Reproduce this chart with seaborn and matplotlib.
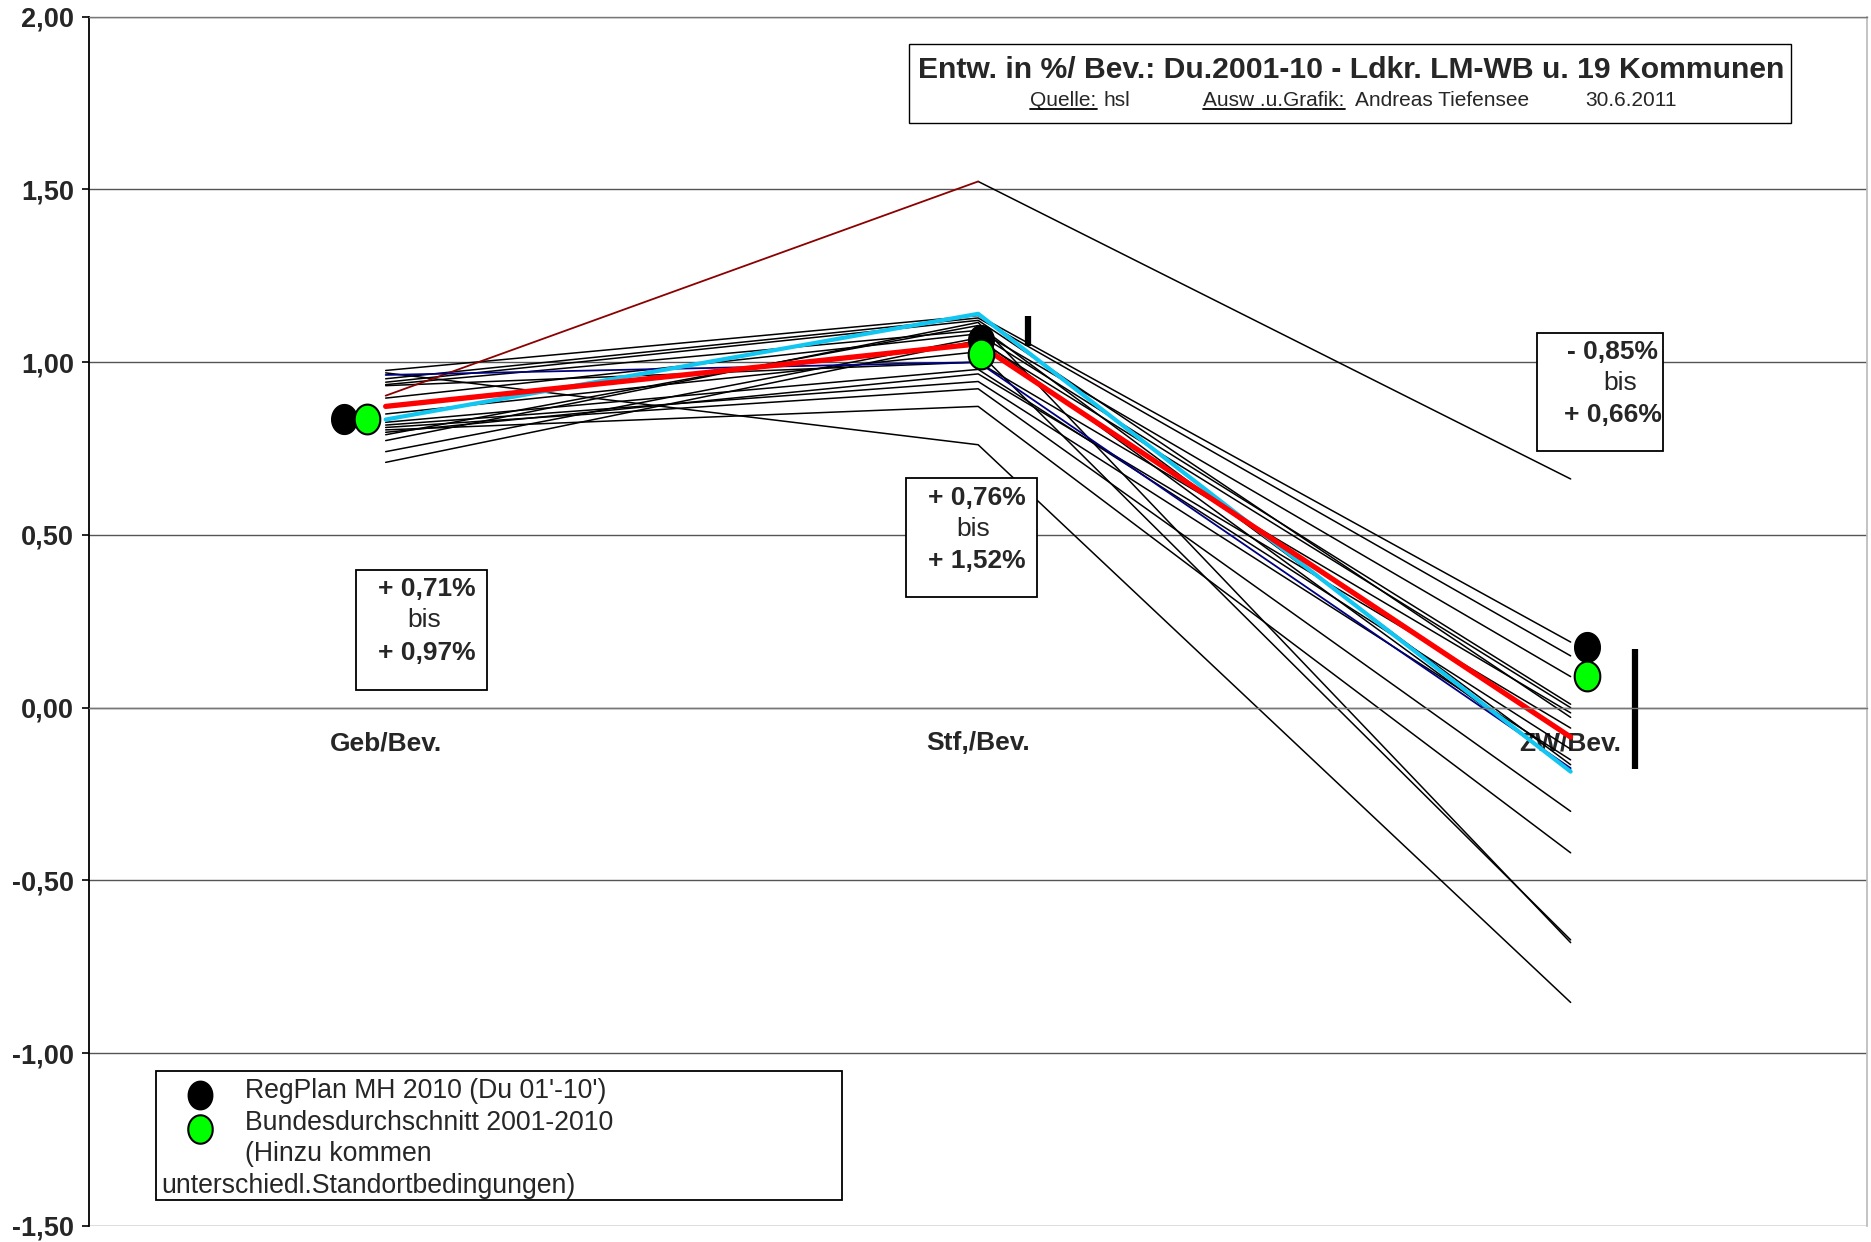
import numpy as np
import pandas as pd
import matplotlib
matplotlib.use("Agg")
import matplotlib.pyplot as plt
from matplotlib.path import Path
from matplotlib.patches import Rectangle
from matplotlib.lines import Line2D
from matplotlib.ticker import FuncFormatter
import seaborn as sns

# Kategorien (x-Achse)
categories = ["Geb/Bev.", "Stf,/Bev.", "ZW/Bev."]

# 17 Kommunen (schwarz): Werte je Kategorie
geb = [0.976, 0.969, 0.952, 0.942, 0.935, 0.932, 0.896, 0.850, 0.826,
       0.818, 0.811, 0.804, 0.797, 0.790, 0.773, 0.741, 0.710]
stf = [1.135, 0.761, 1.128, 1.121, 1.092, 1.000, 1.082, 1.030, 0.979,
       0.944, 0.923, 0.872, 0.966, 1.106, 1.115, 1.070, 1.063]
zw = [0.190, -0.853, 0.150, -0.028, 0.090, -0.015, 0.010, -0.672, -0.120,
      -0.151, -0.300, -0.420, -0.059, -0.165, -0.680, -0.180, 0.000]

# Sonderlinien
darkred_vals = [0.903, 1.523, 0.662]   # Kommune mit Maximum
navy_vals = [0.963, 1.000, -0.175]
cyan_vals = [0.834, 1.140, -0.185]
ldkr_vals = [0.872, 1.053, -0.085]      # Landkreis (rot)

# Vergleichspunkte
regplan = [0.835, 1.063, 0.175]
bund = [0.835, 1.024, 0.092]

# senkrechte Balken (Spannweiten)
stf_range = [1.048, 1.135]
zw_range = [-0.178, 0.169]

# Textboxen
box_texts = [("+ 0,71%", "bis", "+ 0,97%"),
             ("+ 0,76%", "bis", "+ 1,52%"),
             ("- 0,85%", "bis", "+ 0,66%")]

title = "Entw. in %/ Bev.: Du.2001-10 - Ldkr. LM-WB u. 19 Kommunen"
legend_lines = ["RegPlan MH 2010 (Du 01'-10')", "Bundesdurchschnitt 2001-2010",
                "(Hinzu kommen", "unterschiedl.Standortbedingungen)"]

sns.set_theme(style="white")
plt.rcParams["font.family"] = ["Liberation Sans", "DejaVu Sans"]

pos = np.arange(len(categories))

# Long-Format Tabelle fuer die schwarzen Linien
rows = []
for i in range(len(geb)):
    for p, v in zip(pos, [geb[i], stf[i], zw[i]]):
        rows.append({"name": f"K{i}", "pos": p, "value": v})
# zweites Segment der dunkelroten Kommune ist schwarz
for p, v in zip(pos[1:], darkred_vals[1:]):
    rows.append({"name": "darkred", "pos": p, "value": v})
df = pd.DataFrame(rows)

fig = plt.figure(figsize=(18.71, 12.42), dpi=100)
ax = fig.add_axes([0.0478, 0.0129, 0.950, 0.9737])

sns.lineplot(data=df, x="pos", y="value", units="name", estimator=None,
             color="black", linewidth=1.1, ax=ax, legend=False)
sns.lineplot(x=pos[:2], y=darkred_vals[:2], color="#8B0000", linewidth=1.3, ax=ax)
sns.lineplot(x=pos, y=navy_vals, color="#000080", linewidth=1.3, ax=ax)
sns.lineplot(x=pos, y=cyan_vals, color="#12C6F2", linewidth=3.0, ax=ax)
sns.lineplot(x=pos, y=ldkr_vals, color="#FF0000", linewidth=3.8, ax=ax)

# elliptischer Marker
t = np.linspace(0, 2 * np.pi, 60)
ell = Path(np.column_stack([0.43 * np.cos(t), 0.5 * np.sin(t)]))

ax.scatter(pos + np.array([-0.071, 0.004, 0.027]), regplan, s=460, marker=ell,
           color="black", edgecolor="black", zorder=5)
ax.scatter(pos + np.array([-0.032, 0.004, 0.027]), bund, s=460, marker=ell,
           color="#00FF00", edgecolor="black", linewidth=1.5, zorder=6)

ax.plot([1.084, 1.084], stf_range, color="black", linewidth=4.5, solid_capstyle="butt")
ax.plot([2.108, 2.108], zw_range, color="black", linewidth=4.5, solid_capstyle="butt")

# Achsen
ax.set_xlim(-0.5, 2.5)
ax.set_ylim(-1.5, 2.0)
ax.set_yticks(np.arange(-1.5, 2.01, 0.5))
ax.yaxis.set_major_formatter(FuncFormatter(lambda v, _: f"{v:.2f}".replace(".", ",")))
ax.set_xticks(pos)
ax.set_xticklabels(categories)
ax.set_xticks([0.5, 1.5], minor=True)
ax.set_xlabel("")
ax.set_ylabel("")

ax.spines["bottom"].set_position(("data", 0))
ax.spines["bottom"].set_color("#777777")
ax.spines["bottom"].set_linewidth(1)
ax.spines["left"].set_color("black")
ax.spines["left"].set_linewidth(1.3)
ax.spines["top"].set_color("#777777")
ax.spines["right"].set_color("#bbbbbb")
ax.spines["top"].set_linewidth(1)

ax.tick_params(axis="x", which="major", length=0, pad=17, labelsize=19)
ax.tick_params(axis="x", which="minor", length=5, color="#777777", direction="out")
ax.tick_params(axis="y", length=5, direction="out", color="black", width=1.2,
               pad=6, labelsize=19.5, left=True)
for lab in ax.get_xticklabels() + ax.get_yticklabels():
    lab.set_fontweight("bold")
ax.yaxis.grid(True, color="#555555", linewidth=1)
ax.xaxis.grid(False)

# Spannweiten-Boxen: (x0, y0, Breite, Hoehe, Textmitte, bis-Mitte, Zeilen-y)
boxes = [(-0.050, 0.051, 0.221, 0.347, 0.070, 0.065, [0.343, 0.253, 0.159]),
         (0.878, 0.321, 0.222, 0.343, 0.998, 0.991, [0.608, 0.518, 0.425]),
         (1.943, 0.743, 0.213, 0.341, 2.071, 2.084, [1.029, 0.939, 0.847])]
for (x0, y0, w, h, cx, bx, ys), txt in zip(boxes, box_texts):
    ax.add_patch(Rectangle((x0, y0), w, h, facecolor="white", edgecolor="black",
                           linewidth=1.3, zorder=7))
    ax.text(cx, ys[0], txt[0], ha="center", va="center", fontsize=19,
            fontweight="bold", zorder=8)
    ax.text(bx, ys[1], txt[1], ha="center", va="center", fontsize=19, zorder=8)
    ax.text(cx, ys[2], txt[2], ha="center", va="center", fontsize=19,
            fontweight="bold", zorder=8)

# Titelbox
ax.add_patch(Rectangle((0.884, 1.692), 1.488, 0.229, facecolor="white",
                       edgecolor="black", linewidth=1, zorder=7))
ax.text(1.629, 1.845, title, ha="center", va="center", fontsize=21.7,
        fontweight="bold", zorder=8)
sub_y = 1.758
t_q = ax.text(1.088, sub_y, "Quelle:", ha="left", va="center", fontsize=15, zorder=8)
ax.text(1.212, sub_y, "hsl", ha="left", va="center", fontsize=15, zorder=8)
t_a = ax.text(1.380, sub_y, "Ausw .u.Grafik:", ha="left", va="center", fontsize=15, zorder=8)
ax.text(1.636, sub_y, "Andreas Tiefensee", ha="left", va="center", fontsize=15, zorder=8)
ax.text(2.024, sub_y, "30.6.2011", ha="left", va="center", fontsize=15, zorder=8)

# Legendenbox
ax.add_patch(Rectangle((-0.388, -1.426), 1.158, 0.374, facecolor="white",
                       edgecolor="black", linewidth=1.3, zorder=7))
ax.scatter([-0.314], [-1.122], s=420, marker=ell, color="black", zorder=9)
ax.scatter([-0.314], [-1.219], s=420, marker=ell, color="#00FF00",
           edgecolor="black", linewidth=1.5, zorder=9)
leg_y = [-1.109, -1.202, -1.292, -1.385]
leg_x = [-0.237, -0.237, -0.237, -0.378]
for lx, ly, s in zip(leg_x, leg_y, legend_lines):
    ax.text(lx, ly, s, ha="left", va="center", fontsize=19.2, zorder=8)

# Unterstreichungen
fig.canvas.draw()
renderer = fig.canvas.get_renderer()
inv = fig.transFigure.inverted()
for tt in (t_q, t_a):
    bb = tt.get_window_extent(renderer)
    (x0, y0), (x1, _) = inv.transform([(bb.x0, bb.y0 + 1), (bb.x1, bb.y0 + 1)])
    fig.add_artist(Line2D([x0, x1], [y0, y0], color="black", linewidth=1.3,
                          transform=fig.transFigure, zorder=10))

fig.savefig("out.png", dpi=100)
plt.close(fig)
